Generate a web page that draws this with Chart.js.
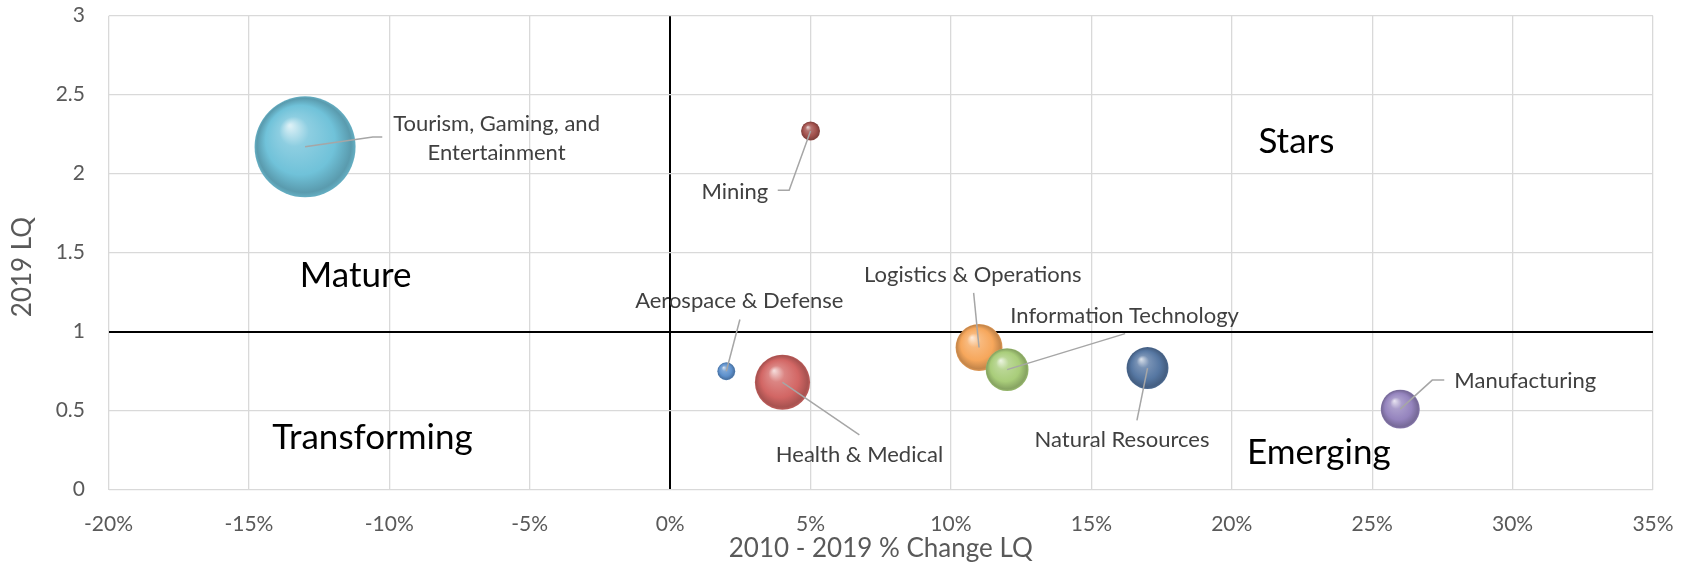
<!DOCTYPE html>
<html>
<head>
<meta charset="utf-8">
<script src="https://cdn.jsdelivr.net/npm/chart.js@4.4.0/dist/chart.umd.min.js"></script>
<style>
  html, body { margin: 0; padding: 0; background: #fff; }
  #wrap { width: 1692px; height: 564px; }
</style>
</head>
<body>
<div id="wrap"><canvas id="myChart" width="1692" height="564"></canvas></div>
<script>
// dados do gráfico
const industries = [
  'Tourism, Gaming, and Entertainment',
  'Mining',
  'Aerospace & Defense',
  'Health & Medical',
  'Logistics & Operations',
  'Information Technology',
  'Natural Resources',
  'Manufacturing'
]
const pctChange = [-13, 5, 2, 4, 11, 12, 17, 26]          // 2010 - 2019 % Change LQ
const lq2019 = [2.17, 2.27, 0.75, 0.68, 0.9, 0.76, 0.77, 0.51]
const bubbleSize = [255, 9, 8, 76, 55, 46, 44, 38]        // tamanho relativo da bolha
const xTicks = [-20, -15, -10, -5, 0, 5, 10, 15, 20, 25, 30, 35]
const yTicks = [0, 0.5, 1, 1.5, 2, 2.5, 3]
const quadrantNames = ['Mature', 'Transforming', 'Stars', 'Emerging']
const quadrantSpots = [[-11.2, 1.28], [-10.6, 0.26], [22.3, 2.13], [23.1, 0.16]]

const colors = ['#70c2d9', '#a3514d', '#5d90cc', '#d26664', '#f6a75c', '#a9cd7a', '#5677a2', '#9584be']
const FONT = 'Lato, "Open Sans", sans-serif'
const MAX_R = 50.5

// posição dos rótulos em relação ao centro da bolha (px)
const labelLayout = [
  { lines: ['Tourism, Gaming, and', 'Entertainment'], dx: 191.5, dy: -15.8, lh: 29.3, leader: [[67.8, -9.8], [77.2, -9.8]] },
  { lines: ['Mining'], dx: -75.7, dy: 68, leader: [[-21.4, 59.3], [-32.8, 59.3]] },
  { lines: ['Aerospace & Defense'], dx: 13, dy: -63.4, leader: [[13.6, -51.7]] },
  { lines: ['Health & Medical'], dx: 77, dy: 79.4, leader: [[76.9, 52.7]] },
  { lines: ['Logistics & Operations'], dx: -6.2, dy: -65.6, leader: [[-5.4, -54.6]] },
  { lines: ['Information Technology'], dx: 117.5, dy: -47, leader: [[118, -36]] },
  { lines: ['Natural Resources'], dx: -25.5, dy: 79, leader: [[-10.6, 52.3]] },
  { lines: ['Manufacturing'], dx: 125, dy: -20.7, leader: [[32, -29], [44, -29]] }
]

function shade(hex, amt) {
  const n = parseInt(hex.slice(1), 16)
  let r = (n >> 16) & 255, g = (n >> 8) & 255, b = n & 255
  const t = amt < 0 ? 0 : 255
  const p = Math.abs(amt)
  r = Math.round(r + (t - r) * p)
  g = Math.round(g + (t - g) * p)
  b = Math.round(b + (t - b) * p)
  return 'rgb(' + r + ',' + g + ',' + b + ')'
}

function sphereFill(c) {
  const chart = c.chart
  const raw = c.raw
  const base = colors[c.dataIndex]
  if (!chart.chartArea || !raw || !chart.scales.x) return base
  const cx = chart.scales.x.getPixelForValue(raw.x)
  const cy = chart.scales.y.getPixelForValue(raw.y)
  const r = raw.r
  const g = chart.ctx.createRadialGradient(cx - r * 0.3, cy - r * 0.42, r * 0.02, cx, cy, r)
  g.addColorStop(0, shade(base, 0.75))
  g.addColorStop(0.28, shade(base, 0.2))
  g.addColorStop(0.68, base)
  g.addColorStop(0.93, shade(base, -0.2))
  g.addColorStop(1, shade(base, -0.1))
  return g
}

const maxSize = Math.max(...bubbleSize)
const points = industries.map((name, i) => ({
  x: pctChange[i],
  y: lq2019[i],
  r: MAX_R * Math.sqrt(bubbleSize[i] / maxSize)
}))

const overlayPlugin = {
  id: 'overlay',
  afterDatasetsDraw(chart) {
    const ctx = chart.ctx
    const xs = chart.scales.x, ys = chart.scales.y
    ctx.save()
    // rótulos das bolhas com linhas de chamada
    labelLayout.forEach((lab, i) => {
      const cx = xs.getPixelForValue(points[i].x)
      const cy = ys.getPixelForValue(points[i].y)
      ctx.strokeStyle = '#a6a6a6'
      ctx.lineWidth = 1.5
      ctx.beginPath()
      ctx.moveTo(cx, cy)
      lab.leader.forEach(p => ctx.lineTo(cx + p[0], cy + p[1]))
      ctx.stroke()
      ctx.fillStyle = '#404040'
      ctx.font = '22px ' + FONT
      ctx.textAlign = 'center'
      ctx.textBaseline = 'alphabetic'
      lab.lines.forEach((t, k) => ctx.fillText(t, cx + lab.dx, cy + lab.dy + k * (lab.lh || 0)))
    })
    // nomes dos quadrantes
    ctx.fillStyle = '#000'
    ctx.font = '35px ' + FONT
    quadrantNames.forEach((q, i) => {
      ctx.fillText(q, xs.getPixelForValue(quadrantSpots[i][0]), ys.getPixelForValue(quadrantSpots[i][1]))
    })
    // títulos dos eixos
    ctx.fillStyle = '#595959'
    ctx.font = '26px ' + FONT
    ctx.fillText('2010 - 2019 % Change LQ', (chart.chartArea.left + chart.chartArea.right) / 2, 557)
    ctx.translate(31, 267)
    ctx.rotate(-Math.PI / 2)
    ctx.fillText('2019 LQ', 0, 0)
    ctx.restore()
  }
}

const ctx = document.getElementById('myChart').getContext('2d')
new Chart(ctx, {
  type: 'bubble',
  data: {
    labels: industries,
    datasets: [
      {
        label: '2019 LQ',
        data: points,
        backgroundColor: sphereFill,
        borderWidth: 0,
        hoverRadius: 0
      }
    ]
  },
  options: {
    responsive: false,
    animation: false,
    events: [],
    layout: { autoPadding: false, padding: { left: 0, top: 15.7, right: 39, bottom: 0 } },
    plugins: { legend: { display: false }, tooltip: { enabled: false } },
    scales: {
      x: {
        type: 'linear',
        min: xTicks[0],
        max: xTicks[xTicks.length - 1],
        afterBuildTicks: s => { s.ticks = xTicks.map(v => ({ value: v })) },
        afterFit: s => {
          s.height = 564 - 489.7
          s.paddingLeft = 0
          s.paddingRight = 0
        },
        border: { display: false },
        grid: {
          drawTicks: false,
          color: c => (c.tick && c.tick.value === 0 ? '#000' : '#d9d9d9'),
          lineWidth: c => (c.tick && c.tick.value === 0 ? 2 : 1.3)
        },
        ticks: {
          padding: 22,
          color: '#595959',
          font: { family: FONT, size: 21 },
          callback: v => v + '%'
        }
      },
      y: {
        type: 'linear',
        min: yTicks[0],
        max: yTicks[yTicks.length - 1],
        afterBuildTicks: s => { s.ticks = yTicks.map(v => ({ value: v })) },
        afterFit: s => {
          s.width = 108.5
          s.paddingTop = 0
          s.paddingBottom = 0
        },
        border: { display: false },
        grid: {
          drawTicks: false,
          color: c => (c.tick && c.tick.value === 1 ? '#000' : '#d9d9d9'),
          lineWidth: c => (c.tick && c.tick.value === 1 ? 2 : 1.3)
        },
        ticks: {
          padding: 23.5,
          color: '#595959',
          font: { family: FONT, size: 21 },
          callback: v => String(v)
        }
      }
    }
  },
  plugins: [overlayPlugin]
})
</script>
</body>
</html>
